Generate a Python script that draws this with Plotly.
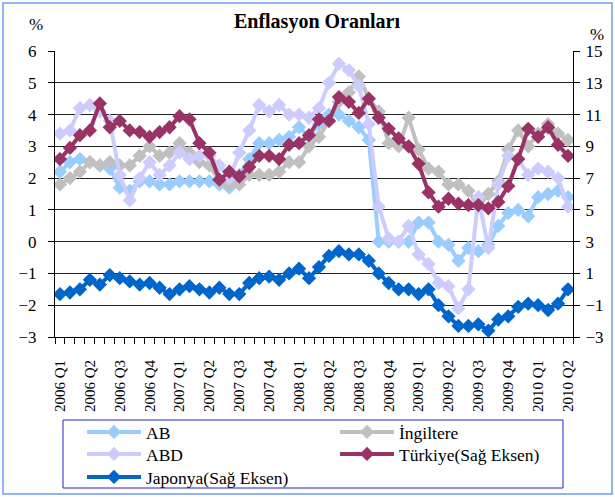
import plotly.graph_objects as go

tick_labels = ["2006 Q1", "2006 Q2", "2006 Q3", "2006 Q4", "2007 Q1", "2007 Q2",
               "2007 Q3", "2007 Q4", "2008 Q1", "2008 Q2", "2008 Q3", "2008 Q4",
               "2009 Q1", "2009 Q2", "2009 Q3", "2009 Q4", "2010 Q1", "2010 Q2"]

ab = [2.2, 2.5, 2.6, 2.5, 2.4, 2.3, 1.7, 1.6, 1.9, 1.9, 1.8, 1.8, 1.9, 1.9, 1.9, 1.9,
      1.8, 1.7, 2.1, 2.6, 3.1, 3.1, 3.2, 3.3, 3.6, 3.3, 3.7, 4.0, 4.0, 3.8, 3.6, 3.2,
      0.0, 0.0, 0.0, 0.0, 0.6, 0.6, 0.0, -0.1, -0.6, -0.2, -0.3, -0.1, 0.5, 0.9,
      1.0, 0.8, 1.4, 1.5, 1.6, 1.4]
ingiltere = [1.8, 2.0, 2.2, 2.5, 2.4, 2.5, 2.4, 2.4, 2.7, 3.0, 2.7, 2.8, 3.1, 2.8, 2.5, 2.4,
             1.9, 1.8, 1.8, 2.1, 2.1, 2.1, 2.2, 2.5, 2.5, 3.0, 3.3, 3.8, 4.4, 4.7, 5.2, 4.5,
             4.1, 3.1, 3.0, 3.9, 2.9, 2.3, 2.2, 1.8, 1.8, 1.6, 1.1, 1.5, 1.9, 2.9,
             3.5, 3.0, 3.4, 3.7, 3.4, 3.2]
abd = [3.4, 3.5, 4.2, 4.3, 4.1, 3.8, 2.1, 1.3, 2.0, 2.5, 2.1, 2.4, 2.8, 2.6, 2.7, 2.7,
       2.4, 2.0, 2.8, 3.5, 4.3, 4.1, 4.3, 4.0, 4.0, 3.9, 4.2, 5.0, 5.6, 5.4, 4.9, 3.7,
       1.1, 0.1, 0.0, 0.5, -0.4, -0.7, -1.3, -1.4, -2.1, -1.5, 1.4, -0.2, 1.8, 2.7,
       2.6, 2.1, 2.3, 2.2, 2.0, 1.1]
turkiye = [8.2, 8.9, 9.7, 10.0, 11.7, 10.2, 10.6, 10.0, 9.9, 9.6, 9.9, 10.2, 10.9, 10.7, 9.2, 8.6,
           6.9, 7.4, 7.1, 7.7, 8.4, 8.4, 8.2, 9.1, 9.2, 9.7, 10.7, 10.6, 12.1, 11.8, 11.1, 12.0,
           10.8, 10.1, 9.5, 9.0, 7.9, 6.1, 5.2, 5.7, 5.4, 5.3, 5.3, 5.1, 5.5, 6.5,
           8.2, 10.1, 9.6, 10.2, 9.1, 8.4]
japonya = [-0.3, -0.2, 0.0, 0.6, 0.3, 0.9, 0.7, 0.5, 0.3, 0.4, 0.1, -0.3, 0.0, 0.2, 0.0, -0.2,
           0.1, -0.3, -0.3, 0.4, 0.7, 0.8, 0.6, 1.0, 1.3, 0.7, 1.4, 2.1, 2.4, 2.2, 2.2, 1.8,
           1.0, 0.4, 0.0, 0.0, -0.3, 0.0, -1.0, -1.7, -2.3, -2.3, -2.2, -2.6, -1.9, -1.7,
           -1.1, -0.9, -1.0, -1.3, -0.9, 0.0]

x = list(range(len(ab)))
tickvals = list(range(0, len(ab), 3))

FONT = "Liberation Serif"
# name, values, colour, axis, legend row
series = [
    ("AB", ab, "#99CCFF", "y", "legend"),
    ("İngiltere", ingiltere, "#C0C0C0", "y", "legend"),
    ("ABD", abd, "#CCCCFF", "y", "legend2"),
    ("Türkiye(Sağ Eksen)", turkiye, "#993366", "y2", "legend2"),
    ("Japonya(Sağ Eksen)", japonya, "#0066CC", "y2", "legend3"),
]

fig = go.Figure()
for name, vals, col, ax, leg in series:
    fig.add_trace(go.Scatter(
        x=x, y=vals, name=name, yaxis=ax, mode="lines+markers", legend=leg,
        line=dict(color=col, width=4),
        marker=dict(symbol="diamond", size=11, color=col, line=dict(width=0)),
    ))

PW, PH = 518, 286  # plot area size in px


def px_x(px):
    return (px - 55) / PW


def px_y(py):
    return (337 - py) / PH


def legend_row(center_y):
    return dict(orientation="h", x=px_x(82), y=px_y(center_y),
                xanchor="left", yanchor="middle", borderwidth=0,
                entrywidth=184, entrywidthmode="pixels", itemwidth=54,
                tracegroupgap=0, font=dict(family=FONT, size=17.5, color="black"),
                bgcolor="rgba(0,0,0,0)")


fig.update_layout(
    width=615, height=497,
    margin=dict(l=55, r=42, t=51, b=160, autoexpand=False),
    paper_bgcolor="white", plot_bgcolor="white",
    font=dict(family=FONT, color="black", size=15),
    title=dict(text="<b>Enflasyon Oranları</b>", x=317 / 615, xanchor="center",
               y=1 - 21 / 497, yanchor="middle", font=dict(family=FONT, size=20, color="black")),
    xaxis=dict(range=[-0.5, len(ab) - 0.5], tickmode="array", tickvals=tickvals,
               ticktext=tick_labels, tickangle=-90, ticks="", showgrid=False,
               showline=True, linecolor="black", linewidth=1, zeroline=False,
               automargin=False,
               ticklabelstandoff=16, tickfont=dict(family=FONT, size=15, color="black"),
               minor=dict(tickmode="linear", tick0=-0.5, dtick=1, ticks="outside",
                          ticklen=6, tickcolor="black", showgrid=False)),
    yaxis=dict(range=[-3, 6], tick0=-3, dtick=1, showgrid=True, gridcolor="#222222", gridwidth=1,
               zeroline=False, showline=True, linecolor="black", ticks="outside",
               ticklen=6, tickcolor="black", ticklabelstandoff=8, automargin=False,
               tickfont=dict(family=FONT, size=17, color="black")),
    yaxis2=dict(range=[-3, 15], tick0=-3, dtick=2, overlaying="y", side="right", showgrid=False,
                zeroline=False, showline=True, linecolor="black", ticks="outside",
                ticklen=6, tickcolor="black", ticklabelstandoff=2, automargin=False,
                tickfont=dict(family=FONT, size=17, color="black")),
    legend=legend_row(432),
    legend2=legend_row(454),
    legend3=legend_row(477),
    showlegend=True,
)

fig.add_annotation(text="%", xref="paper", yref="paper", x=px_x(36),
                   y=px_y(24), xanchor="center", yanchor="middle",
                   showarrow=False, font=dict(family=FONT, size=17))
fig.add_annotation(text="%", xref="paper", yref="paper", x=px_x(597),
                   y=px_y(35), xanchor="center", yanchor="middle",
                   showarrow=False, font=dict(family=FONT, size=17))

# legend frame
fig.add_shape(type="rect", xref="paper", yref="paper",
              x0=px_x(63), x1=px_x(563), y0=px_y(488), y1=px_y(420),
              line=dict(color="#2222CC", width=1), layer="below")
# outer chart frame
fig.add_shape(type="rect", xref="paper", yref="paper",
              x0=px_x(3), x1=px_x(612), y0=px_y(494), y1=px_y(3),
              line=dict(color="#6F9CF5", width=1.5), layer="below")

fig.write_html("out.html", config={"displayModeBar": False},
               post_script="document.body.style.margin='0';document.body.style.padding='0';")
